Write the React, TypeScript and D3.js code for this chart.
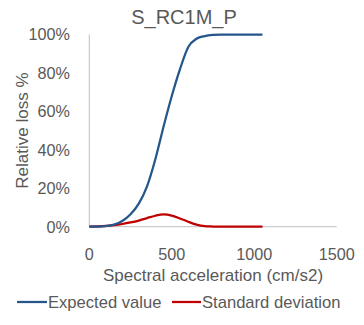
import React from "react";
import * as d3 from "d3";

const xValues = [0, 50, 100, 150, 200, 250, 300, 350, 400, 450, 500, 550, 600, 650, 700, 750, 800, 850, 900, 950, 1000, 1050];
const expectedValue = [0, 0.05, 0.3, 1.1, 3, 6.5, 12, 21, 35, 52, 68, 82, 93.5, 97.8, 99.2, 99.8, 100, 100, 100, 100, 100, 100];
const standardDeviation = [0.1, 0.2, 0.4, 0.8, 1.4, 2.2, 3.2, 4.5, 5.7, 6.4, 5.8, 4.3, 2.6, 1.1, 0.3, 0.1, 0, 0, 0, 0, 0, 0];
const xTicks = [0, 500, 1000, 1500];
const yTicks = [0, 20, 40, 60, 80, 100];
const title = "S_RC1M_P";
const xTitle = "Spectral acceleration (cm/s2)";
const yTitle = "Relative loss %";
const seriesNames = ["Expected value", "Standard deviation"];

const W = 364, H = 325;
const left = 89.3, right = 336.7, top = 34.5, bottom = 226.7;
const FONT = "'Liberation Sans', Arial, sans-serif";
const TXT = "#595959";
const BLUE = "#245689";
const RED = "#C00000";

export default function App() {
  const x = d3.scaleLinear().domain([0, 1500]).range([left, right]);
  const y = d3.scaleLinear().domain([0, 100]).range([bottom, top]);
  const line = d3.line<[number, number]>().x(d => x(d[0])).y(d => y(d[1])).curve(d3.curveMonotoneX);
  const expPts = xValues.map((v, i) => [v, expectedValue[i]] as [number, number]);
  const sdPts = xValues.map((v, i) => [v, standardDeviation[i]] as [number, number]);
  return (
    <svg width={W} height={H} style={{ position: "absolute", left: 0, top: 0, background: "#fff" }} fontFamily={FONT}>
      <rect width={W} height={H} fill="#fff" />
      <text x={184} y={24} textAnchor="middle" fontSize={20} fill={TXT}>{title}</text>
      <line x1={left} x2={left} y1={top} y2={bottom} stroke="#BFBFBF" strokeWidth={1} />
      <line x1={left} x2={right} y1={bottom} y2={bottom} stroke="#BFBFBF" strokeWidth={1} />
      {yTicks.map(t => (
        <text key={t} x={70} y={y(t) + 5.8} textAnchor="end" fontSize={16.2} fill={TXT}>{t}%</text>
      ))}
      {xTicks.map(t => (
        <text key={t} x={x(t)} y={260} textAnchor="middle" fontSize={16.2} fill={TXT}>{t}</text>
      ))}
      <text x={(left + right) / 2} y={281} textAnchor="middle" fontSize={17} fill={TXT}>{xTitle}</text>
      <text transform={`translate(28,${(top + bottom) / 2}) rotate(-90)`} textAnchor="middle" fontSize={17} fill={TXT}>{yTitle}</text>
      <path d={line(sdPts) || ""} fill="none" stroke={RED} strokeWidth={2.25} />
      <path d={line(expPts) || ""} fill="none" stroke={BLUE} strokeWidth={2.25} />
      <line x1={17} x2={47} y1={302} y2={302} stroke={BLUE} strokeWidth={2.25} />
      <text x={48} y={308} fontSize={16.6} fill={TXT}>{seriesNames[0]}</text>
      <line x1={172} x2={201} y1={302} y2={302} stroke={RED} strokeWidth={2.25} />
      <text x={202} y={308} fontSize={16.6} fill={TXT}>{seriesNames[1]}</text>
    </svg>
  );
}
